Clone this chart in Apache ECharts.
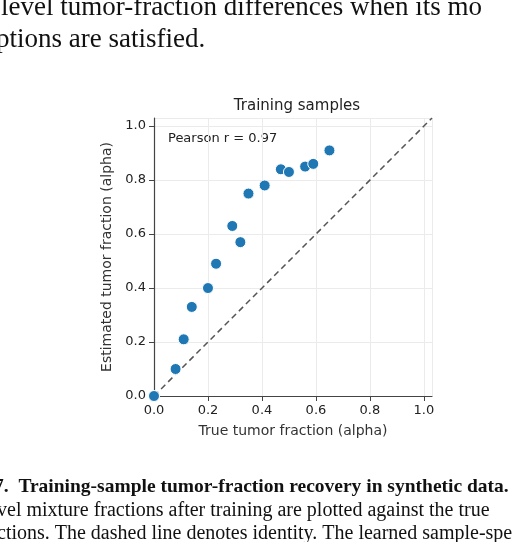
<!DOCTYPE html><html><head><meta charset="utf-8"><script src="https://cdn.jsdelivr.net/npm/echarts@6/dist/echarts.min.js"></script>
<style>html,body{margin:0;padding:0;background:#fff}#c{width:532px;height:542px}</style></head><body><div id="c"></div><script>
const trueFrac=[0.0,0.08,0.11,0.14,0.20,0.23,0.29,0.32,0.35,0.41,0.47,0.50,0.56,0.59,0.65];
const estFrac=[0.0,0.10,0.21,0.33,0.40,0.49,0.63,0.57,0.75,0.78,0.84,0.83,0.85,0.86,0.91];
const tickLabels=['0.0','0.2','0.4','0.6','0.8','1.0'];
const identity=[[0,0],[1.03,1.03]];
const chart=echarts.init(document.getElementById('c'));
const serif='"Liberation Serif","DejaVu Serif",serif';
const sans='"DejaVu Sans",sans-serif';
function ax(name,gap){return{type:'value',min:0,max:1.03,interval:0.2,name:name,nameLocation:'middle',nameGap:gap,
nameTextStyle:{fontFamily:sans,fontSize:14,color:'#333'},
axisLine:{show:true,lineStyle:{color:'#444',width:1.2}},axisTick:{show:true,length:5,lineStyle:{color:'#444'}},
axisLabel:{fontFamily:sans,fontSize:13,color:'#222',formatter:v=>tickLabels[Math.round(v/0.2)]||''},
splitLine:{show:true,lineStyle:{color:'#ebebeb'}}};}
chart.setOption({animation:false,
grid:{left:154,right:100,top:118,bottom:146},
title:{text:'Training samples',left:292,top:94,textAlign:'center',textStyle:{fontFamily:sans,fontSize:15,fontWeight:'normal',color:'#222'}},
xAxis:ax('True tumor fraction (alpha)',28),yAxis:ax('Estimated tumor fraction (alpha)',38),
graphic:[
{type:'text',left:-8,top:-6,style:{text:'-level tumor-fraction differences when its mo',font:'27px '+serif,fill:'#111'}},
{type:'text',left:-4,top:26,style:{text:'ptions are satisfied.',font:'27px '+serif,fill:'#111'}},
{type:'text',left:168,top:132,style:{text:'Pearson r = 0.97',font:'13px '+sans,fill:'#222'}},
{type:'text',left:-6,top:477,style:{text:'7.  Training-sample tumor-fraction recovery in synthetic data.',font:'bold 19.5px '+serif,fill:'#111'}},
{type:'text',left:-3,top:501,style:{text:'vel mixture fractions after training are plotted against the true',font:'20px '+serif,fill:'#111'}},
{type:'text',left:-3,top:524,style:{text:'ctions. The dashed line denotes identity. The learned sample-spe',font:'20px '+serif,fill:'#111'}}
],
series:[
{type:'line',data:identity,symbol:'none',lineStyle:{type:[6,4],color:'#555',width:1.5},z:1},
{type:'scatter',data:trueFrac.map((x,i)=>[x,estFrac[i]]),symbolSize:11,itemStyle:{color:'#1f77b4',borderColor:'#fff',borderWidth:1,opacity:1},z:3}
]});
</script></body></html>
